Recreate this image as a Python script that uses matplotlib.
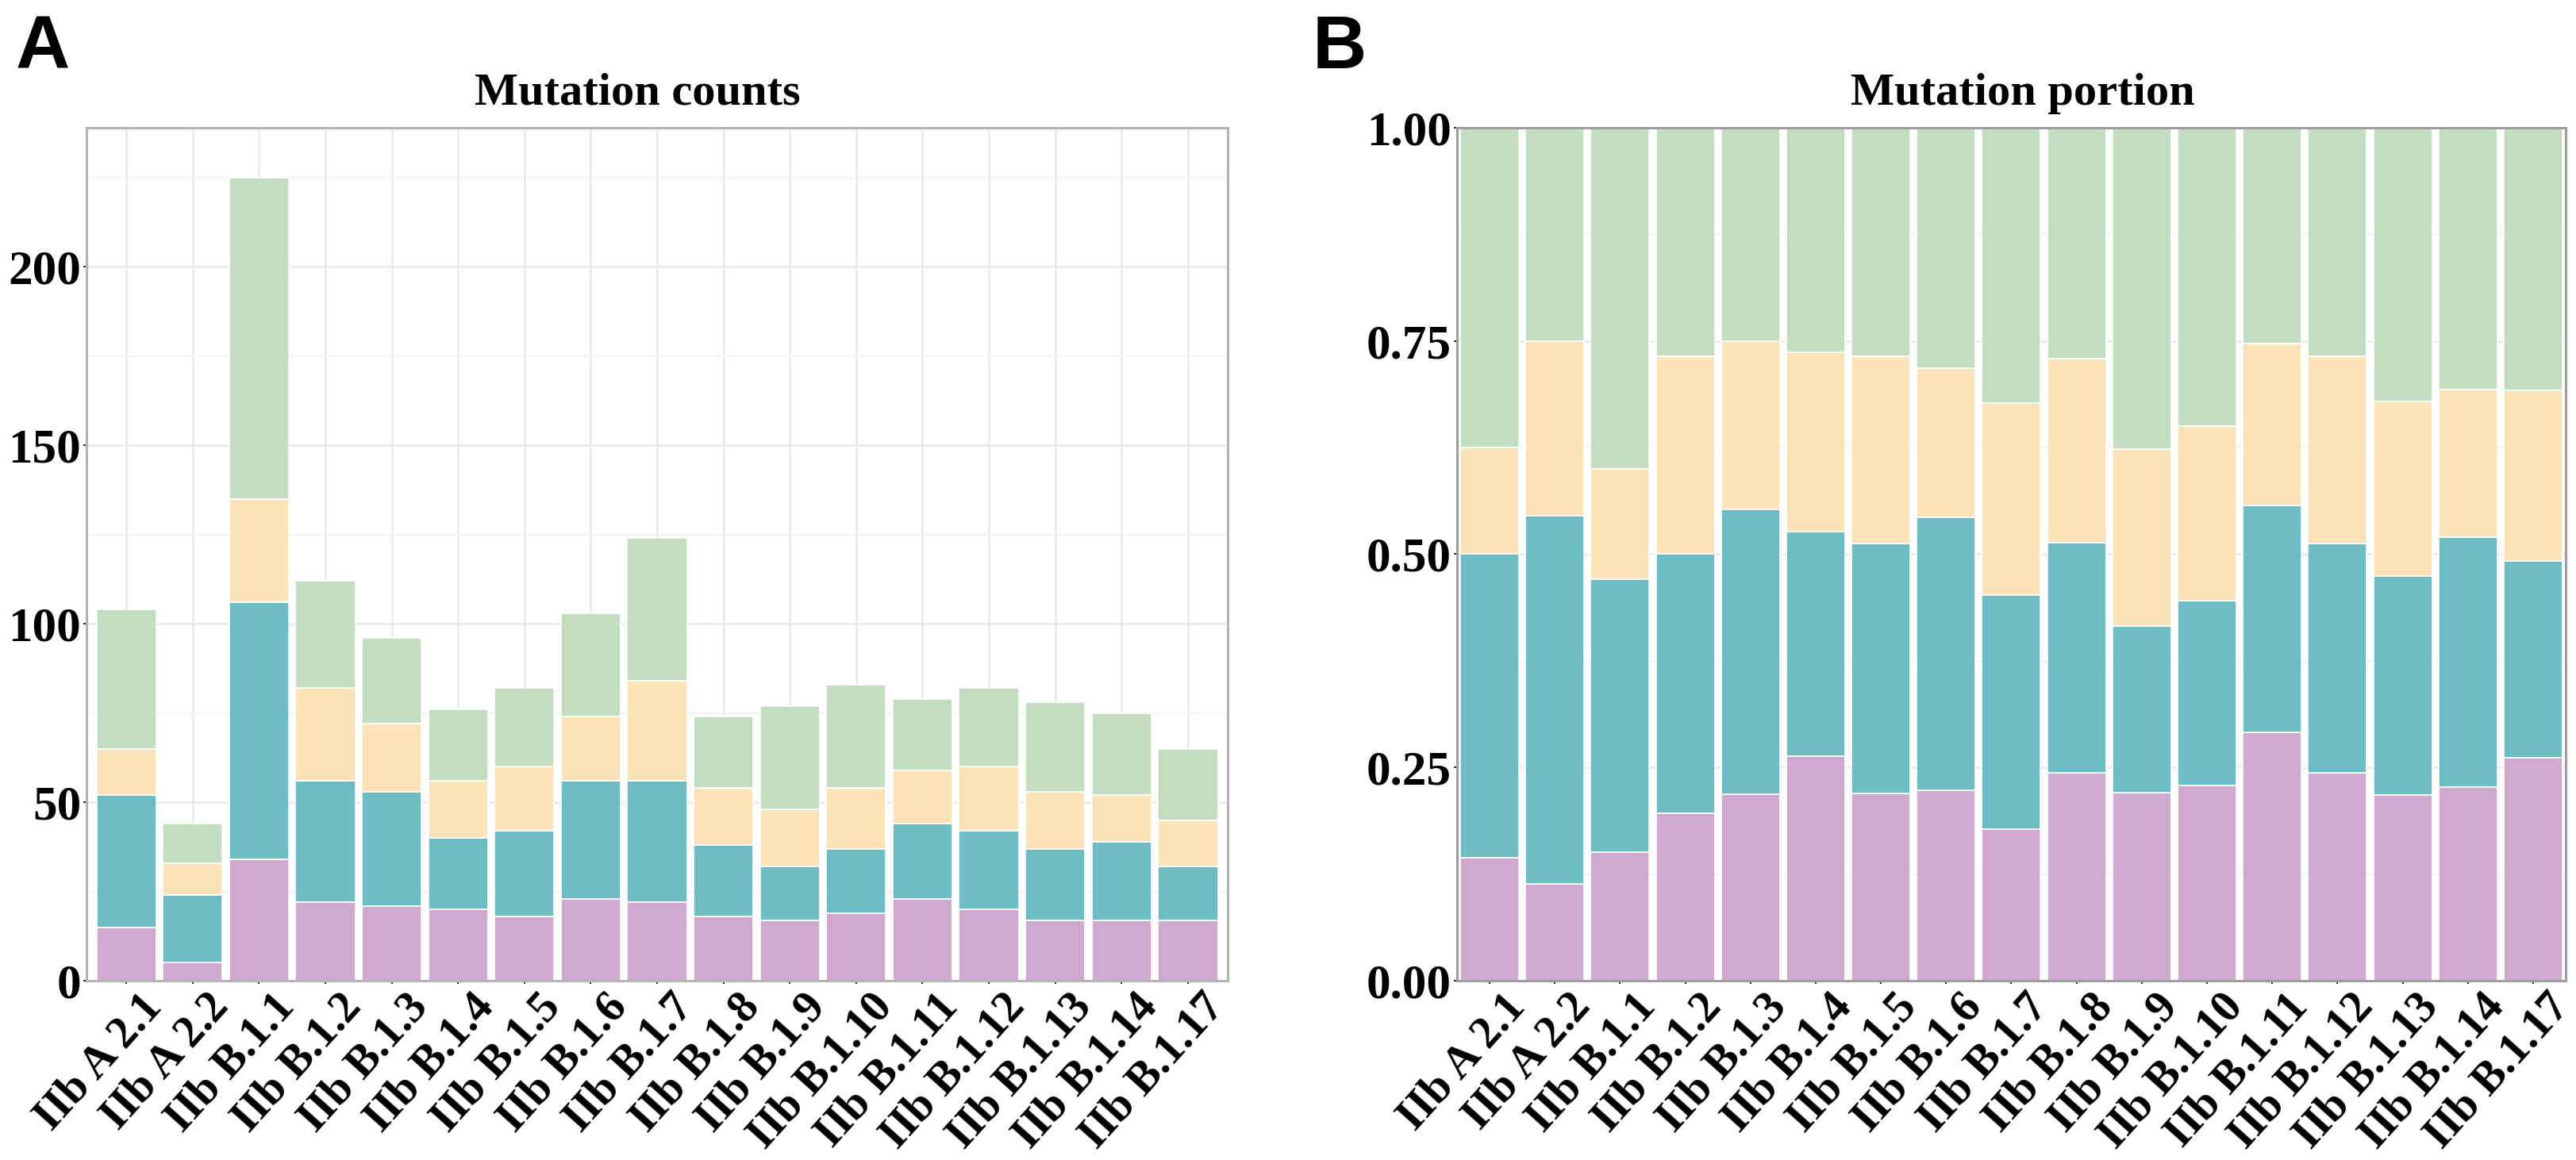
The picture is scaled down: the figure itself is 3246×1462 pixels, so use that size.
import matplotlib
matplotlib.use("Agg")
import matplotlib.pyplot as plt
import numpy as np
from matplotlib.ticker import MultipleLocator
from matplotlib.transforms import ScaledTranslation

categories = ["IIb A 2.1", "IIb A 2.2", "IIb B.1.1", "IIb B.1.2", "IIb B.1.3", "IIb B.1.4",
              "IIb B.1.5", "IIb B.1.6", "IIb B.1.7", "IIb B.1.8", "IIb B.1.9", "IIb B.1.10",
              "IIb B.1.11", "IIb B.1.12", "IIb B.1.13", "IIb B.1.14", "IIb B.1.17"]
# segment counts, bottom to top
purple_counts = [15, 5, 34, 22, 21, 20, 18, 23, 22, 18, 17, 19, 23, 20, 17, 17, 17]
teal_counts   = [37, 19, 72, 34, 32, 20, 24, 33, 34, 20, 15, 18, 21, 22, 20, 22, 15]
yellow_counts = [13, 9, 29, 26, 19, 16, 18, 18, 28, 16, 16, 17, 15, 18, 16, 13, 13]
green_counts  = [39, 11, 90, 30, 24, 20, 22, 29, 40, 20, 29, 29, 20, 22, 25, 23, 20]

series = [purple_counts, teal_counts, yellow_counts, green_counts]
colors = ["#CFA9CE", "#6DBBC3", "#FAE3B9", "#C3DDC1"]

countsA_ticks = [0, 50, 100, 150, 200]
countsB_ticks = [0.0, 0.25, 0.5, 0.75, 1.0]
countsB_labels = ["0.00", "0.25", "0.50", "0.75", "1.00"]

FS = 44
FSX = 41
serif = ["Liberation Serif", "DejaVu Serif"]
plt.rcParams["font.family"] = serif
plt.rcParams["font.weight"] = "bold"

fig = plt.figure(figsize=(32.46, 14.62), dpi=100)
axA = fig.add_axes([0.0336, 0.1546, 0.4430, 0.7353])
axB = fig.add_axes([0.5656, 0.1546, 0.4304, 0.7353])

x = np.arange(1, len(categories) + 1)
data = np.array(series, dtype=float)
totals = data.sum(axis=0)
props = data / totals

def style(ax, spine_color):
    ax.set_facecolor("white")
    for s in ax.spines.values():
        s.set_color(spine_color)
        s.set_linewidth(2.2)
    ax.tick_params(axis="both", length=3, width=1.5, color="#333333",
                   labelsize=FS, pad=2)
    ax.set_axisbelow(True)

# Panel A
bottom = np.zeros(len(x))
for vals, c in zip(data, colors):
    axA.bar(x, vals, 0.9, bottom=bottom, color=c, edgecolor="white", linewidth=1.2, zorder=2)
    bottom += vals
axA.set_xlim(0.4, 17.6)
axA.set_ylim(0, 239)
axA.set_yticks(countsA_ticks)
axA.yaxis.set_minor_locator(MultipleLocator(25))
axA.set_xticks(x)
axA.grid(which="major", color="#EBEBEB", linewidth=2, zorder=0)
axA.grid(which="minor", axis="y", color="#F3F3F3", linewidth=1.5, zorder=0)
axA.tick_params(axis="y", which="minor", length=0)
style(axA, "#B5B5B5")

# Panel B
bottom = np.zeros(len(x))
for vals, c in zip(props, colors):
    axB.bar(x, vals, 0.9, bottom=bottom, color=c, edgecolor="white", linewidth=1.2, zorder=2)
    bottom += vals
axB.set_xlim(0.5, 17.5)
axB.set_ylim(0, 1)
axB.set_yticks(countsB_ticks)
axB.set_yticklabels(countsB_labels)
axB.yaxis.set_minor_locator(MultipleLocator(0.125))
axB.set_xticks(x)
axB.grid(which="major", color="#EBEBEB", linewidth=2, zorder=0)
axB.grid(which="minor", axis="y", color="#F3F3F3", linewidth=1.5, zorder=0)
axB.tick_params(axis="y", which="minor", length=0)
style(axB, "#9E9E9E")

for ax, dx, dy in ((axA, 17, 0), (axB, 17, 0)):
    ax.set_xticklabels(categories, rotation=48, ha="right", va="top",
                       rotation_mode="anchor", fontsize=FSX, fontweight="bold")
    off = ScaledTranslation(dx / 100, dy / 100, fig.dpi_scale_trans)
    for lab in ax.get_xticklabels():
        lab.set_transform(lab.get_transform() + off)
    for lab in ax.get_yticklabels():
        lab.set_fontweight("bold")

fig.text(803 / 3246, 1 - 132 / 1462, "Mutation counts", ha="center", va="baseline",
         fontsize=42, fontweight="bold")
fig.text(2549 / 3246, 1 - 132 / 1462, "Mutation portion", ha="center", va="baseline",
         fontsize=42, fontweight="bold")

fig.text(20 / 3246, 1 - 17 / 1462, "A", ha="left", va="top", fontsize=68,
         fontweight="bold", family=["Liberation Sans", "DejaVu Sans"])
fig.text(1654 / 3246, 1 - 17 / 1462, "B", ha="left", va="top", fontsize=68,
         fontweight="bold", family=["Liberation Sans", "DejaVu Sans"])

fig.savefig("out.png", dpi=100, facecolor="white")
